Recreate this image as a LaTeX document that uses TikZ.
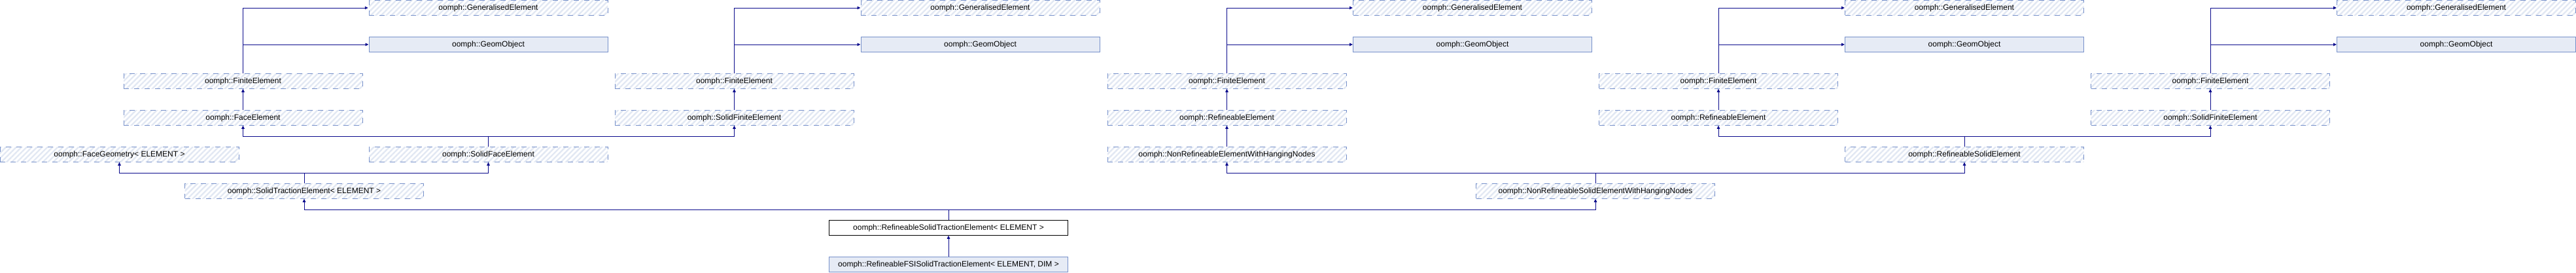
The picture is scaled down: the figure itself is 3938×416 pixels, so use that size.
\documentclass[tikz,border=0pt]{standalone}
\usepackage{fontspec}
\setmainfont{Liberation Sans}
\usetikzlibrary{arrows.meta,patterns.meta}
\definecolor{edgecol}{RGB}{10,10,140}
\definecolor{boxborder}{RGB}{118,144,202}
\definecolor{boxfill}{RGB}{230,235,245}
\definecolor{hatchcol}{RGB}{226,232,243}
\tikzset{
  cls/.style={minimum width=365pt, minimum height=22.5pt, inner sep=0pt, font=\fontsize{12}{14}\selectfont, line width=1pt},
  ext/.style={cls, draw=boxborder, dash pattern=on 8pt off 8pt, pattern={Lines[angle=45,distance=5.6pt,line width=2.4pt]}, pattern color=hatchcol},
  doc/.style={cls, draw=boxborder, fill=boxfill},
  main/.style={cls, draw=black, fill=white},
  edge/.style={draw=edgecol, line width=0.9pt, -{Triangle[length=5pt,width=4.5pt]}},
  bus/.style={draw=edgecol, line width=0.9pt}
}
\begin{document}
\begin{tikzpicture}[x=1pt,y=1pt]
\useasboundingbox (0,0) rectangle (3938,-416);
% row 0 and 1
\foreach \n/\x in {1/746.5,2/1498.5,3/2251,4/3003,5/3755}{
  \node[ext] (g\n) at (\x,-12) {oomph::GeneralisedElement};
  \node[doc] (o\n) at (\x,-68) {oomph::GeomObject};
}
% row 2
\foreach \n/\x in {A/371.5,B/1122.5,C/1875.5,D/2627,E/3379}{
  \node[ext] (f\n) at (\x,-124) {oomph::FiniteElement};
}
% row 3
\node[ext] (faceA) at (371.5,-180) {oomph::FaceElement};
\node[ext] (sfB) at (1122.5,-180) {oomph::SolidFiniteElement};
\node[ext] (reC) at (1875.5,-180) {oomph::RefineableElement};
\node[ext] (reD) at (2627,-180) {oomph::RefineableElement};
\node[ext] (sfE) at (3379,-180) {oomph::SolidFiniteElement};
% row 4
\node[ext] (fg) at (182.5,-236) {oomph::FaceGeometry< ELEMENT >};
\node[ext] (sfe) at (746.5,-236) {oomph::SolidFaceElement};
\node[ext] (nre) at (1875.5,-236) {oomph::NonRefineableElementWithHangingNodes};
\node[ext] (rse) at (3003,-236) {oomph::RefineableSolidElement};
% row 5
\node[ext] (ste) at (465,-292) {oomph::SolidTractionElement< ELEMENT >};
\node[ext] (nrs) at (2439,-292) {oomph::NonRefineableSolidElementWithHangingNodes};
% row 6, 7
\node[main] (rst) at (1450,-348) {oomph::RefineableSolidTractionElement< ELEMENT >};
\node[doc] (fsi) at (1450,-404) {oomph::RefineableFSISolidTractionElement< ELEMENT, DIM >};
% edges to GeneralisedElement / GeomObject
\foreach \a/\n in {A/1,B/2,C/3,D/4,E/5}{
  \draw[edge] (f\a.north) |- (g\n.west);
  \draw[edge] (f\a.north) |- (o\n.west);
}
% direct edges
\draw[edge] (faceA.north) -- (fA.south);
\draw[edge] (sfB.north) -- (fB.south);
\draw[edge] (reC.north) -- (fC.south);
\draw[edge] (reD.north) -- (fD.south);
\draw[edge] (sfE.north) -- (fE.south);
\draw[edge] (nre.north) -- (reC.south);
\draw[edge] (fsi.north) -- (rst.south);
% bus edges
\coordinate (b1) at (sfe.north |- 0,-208);
\draw[bus] (sfe.north) -- (b1);
\draw[edge] (b1) -| (faceA.south);
\draw[edge] (b1) -| (sfB.south);
\coordinate (b2) at (rse.north |- 0,-208);
\draw[bus] (rse.north) -- (b2);
\draw[edge] (b2) -| (reD.south);
\draw[edge] (b2) -| (sfE.south);
\coordinate (b3) at (ste.north |- 0,-264);
\draw[bus] (ste.north) -- (b3);
\draw[edge] (b3) -| (fg.south);
\draw[edge] (b3) -| (sfe.south);
\coordinate (b4) at (nrs.north |- 0,-264);
\draw[bus] (nrs.north) -- (b4);
\draw[edge] (b4) -| (nre.south);
\draw[edge] (b4) -| (rse.south);
\coordinate (b5) at (rst.north |- 0,-320);
\draw[bus] (rst.north) -- (b5);
\draw[edge] (b5) -| (ste.south);
\draw[edge] (b5) -| (nrs.south);
\end{tikzpicture}
\end{document}
